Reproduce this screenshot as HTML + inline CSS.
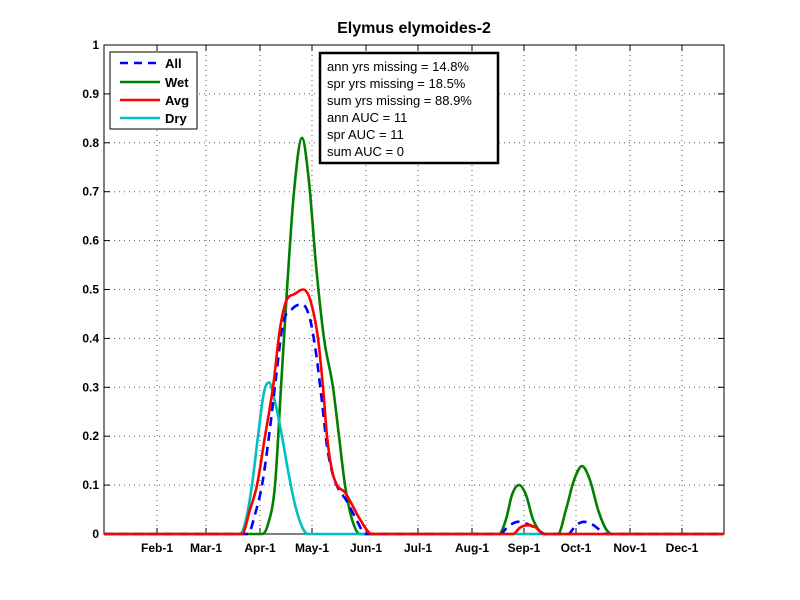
<!DOCTYPE html>
<html><head><meta charset="utf-8"><style>
body{margin:0;background:#fff;}
svg{display:block;font-family:"Liberation Sans",Arial,sans-serif;}
</style></head><body>
<svg id="s" width="800" height="600" xmlns="http://www.w3.org/2000/svg">
<rect x="0" y="0" width="800" height="600" fill="#fff"/>
<g id="grid" stroke="#555" stroke-width="1" stroke-dasharray="1,4"></g>
<rect x="104" y="45" width="620" height="489" fill="none" stroke="#000" stroke-width="1"/>
<g id="ticks" stroke="#000" stroke-width="1"></g>
<g id="labels" font-size="12" font-weight="bold" fill="#000"></g>
<text x="414" y="33" font-size="16" font-weight="bold" text-anchor="middle">Elymus elymoides-2</text>
<g id="series" fill="none" stroke-width="2.6" stroke-linejoin="round"></g>
<rect x="110" y="52" width="87" height="77" fill="#fff" stroke="#000" stroke-width="1"/>
<line x1="120" y1="63" x2="160" y2="63" stroke="#0000ff" stroke-width="2.6" stroke-dasharray="8,6"/>
<line x1="120" y1="82" x2="160" y2="82" stroke="#008000" stroke-width="2.6"/>
<line x1="120" y1="100" x2="160" y2="100" stroke="#ff0000" stroke-width="2.6"/>
<line x1="120" y1="118" x2="160" y2="118" stroke="#00bfbf" stroke-width="2.6"/>
<g font-size="13" font-weight="bold"><text x="165" y="68">All</text><text x="165" y="87">Wet</text><text x="165" y="105">Avg</text><text x="165" y="123">Dry</text></g>
<rect x="320" y="53" width="178" height="110" fill="#fff" stroke="#000" stroke-width="2.5"/>
<g font-size="13"><text x="327" y="71">ann yrs missing = 14.8%</text><text x="327" y="88">spr yrs missing = 18.5%</text><text x="327" y="105">sum yrs missing = 88.9%</text><text x="327" y="122">ann AUC = 11</text><text x="327" y="139">spr AUC = 11</text><text x="327" y="156">sum AUC = 0</text></g>
</svg>
<script>
var NS="http://www.w3.org/2000/svg";
function el(p,t,a,txt){var e=document.createElementNS(NS,t);for(var k in a)e.setAttribute(k,a[k]);if(txt)e.textContent=txt;p.appendChild(e);return e;}
var g=document.getElementById('grid'),tk=document.getElementById('ticks'),lb=document.getElementById('labels');
var xt=[[157,'Feb-1'],[206,'Mar-1'],[260,'Apr-1'],[312,'May-1'],[366,'Jun-1'],[418,'Jul-1'],[472,'Aug-1'],[524,'Sep-1'],[576,'Oct-1'],[630,'Nov-1'],[682,'Dec-1']];
xt.forEach(function(t){el(g,'line',{x1:t[0],y1:45,x2:t[0],y2:534});el(tk,'line',{x1:t[0],y1:534,x2:t[0],y2:528});el(tk,'line',{x1:t[0],y1:45,x2:t[0],y2:51});el(lb,'text',{x:t[0],y:552,'text-anchor':'middle'},t[1]);});
for(var i=0;i<=10;i++){var y=534-i*48.9;var s=i==0?'0':i==10?'1':'0.'+i;
if(i>0&&i<10)el(g,'line',{x1:104,y1:y,x2:724,y2:y});
el(tk,'line',{x1:104,y1:y,x2:110,y2:y});el(tk,'line',{x1:724,y1:y,x2:718,y2:y});
el(lb,'text',{x:99,y:y+4,'text-anchor':'end'},s);}
function Y(v){return 534-v*489;}
function path(P){var n=P.length,x=P.map(function(p){return p[0]}),y=P.map(function(p){return p[1]});
var d=[],m=[];for(var i=0;i<n-1;i++)d.push((y[i+1]-y[i])/(x[i+1]-x[i]));
m[0]=0;m[n-1]=0;for(i=1;i<n-1;i++){if(d[i-1]*d[i]<=0)m[i]=0;else m[i]=(d[i-1]+d[i])/2;}
for(i=0;i<n-1;i++){if(d[i]==0){m[i]=0;m[i+1]=0;continue;}var a=m[i]/d[i],b=m[i+1]/d[i],h=a*a+b*b;if(h>9){var t=3/Math.sqrt(h);m[i]=t*a*d[i];m[i+1]=t*b*d[i];}}
var s='M'+x[0]+','+Y(y[0]);
for(i=0;i<n-1;i++){var h=x[i+1]-x[i];s+=' C'+(x[i]+h/3).toFixed(2)+','+Y(y[i]+m[i]*h/3).toFixed(2)+' '+(x[i+1]-h/3).toFixed(2)+','+Y(y[i+1]-m[i+1]*h/3).toFixed(2)+' '+x[i+1]+','+Y(y[i+1]).toFixed(2);}
return s;}
var S=document.getElementById('series');
var wet=[[104,0],[262,0],[268,0.02],[275,0.1],[281,0.3],[287,0.5],[294,0.7],[302,0.81],[309,0.72],[316,0.55],[324,0.4],[333,0.3],[339,0.2],[345,0.1],[352,0.03],[360,0],[499,0],[506,0.03],[512,0.08],[519,0.1],[526,0.08],[533,0.03],[545,0],[558,0],[566,0.05],[574,0.11],[582,0.139],[590,0.11],[598,0.05],[606,0.01],[612,0],[724,0]];
var avg=[[104,0],[242,0],[250,0.05],[257,0.1],[265,0.2],[273,0.3],[280,0.42],[287,0.48],[294,0.49],[303,0.5],[310,0.48],[318,0.4],[323,0.3],[327,0.2],[332,0.13],[337,0.1],[345,0.085],[352,0.06],[360,0.03],[372,0],[513,0],[520,0.013],[528,0.018],[536,0.013],[543,0],[724,0]];
var all=[[104,0],[248,0],[255,0.04],[262,0.1],[269,0.2],[276,0.32],[283,0.43],[292,0.46],[302,0.47],[310,0.44],[316,0.37],[322,0.27],[327,0.18],[333,0.12],[339,0.09],[346,0.07],[355,0.035],[366,0],[500,0],[508,0.015],[518,0.025],[528,0.02],[537,0.01],[545,0],[568,0],[576,0.018],[584,0.025],[592,0.02],[600,0.008],[607,0],[724,0]];
var dry=[[104,0],[240,0],[246,0.03],[252,0.1],[258,0.2],[264,0.29],[269,0.31],[275,0.27],[282,0.2],[288,0.13],[295,0.06],[302,0.015],[308,0],[724,0]];
el(S,'path',{d:path(wet),stroke:'#008000'});
el(S,'path',{d:path(dry),stroke:'#00bfbf'});
el(S,'path',{d:path(all),stroke:'#0000ff','stroke-dasharray':'9,6'});
el(S,'path',{d:path(avg),stroke:'#ff0000'});
</script>
</body></html>
